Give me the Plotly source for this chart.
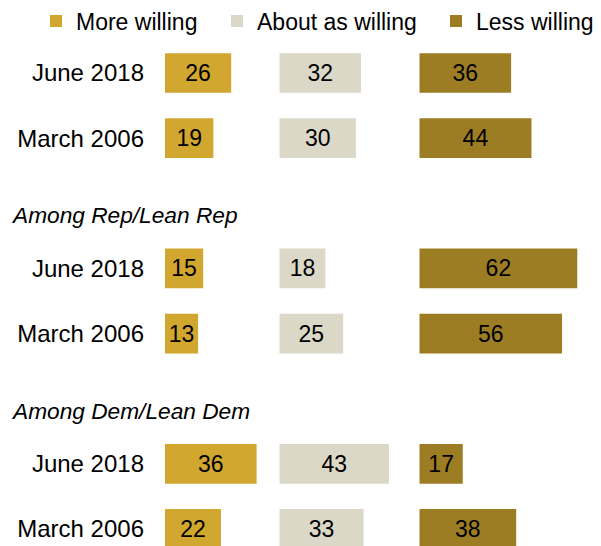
import plotly.graph_objects as go

# ---- data ----
series_names = ["More willing", "About as willing", "Less willing"]
group_titles = ["", "Among Rep/Lean Rep", "Among Dem/Lean Dem"]
period_labels = ["June 2018", "March 2006"]

more_willing = [26, 19, 15, 13, 36, 22]
about_as_willing = [32, 30, 18, 25, 43, 33]
less_willing = [36, 44, 62, 56, 17, 38]

colors = ["#D2A730", "#DBD8C7", "#9D7D24"]
FONT = "Liberation Sans, Arial, sans-serif"

# row positions: each group occupies 3 slots (header slot + 2 rows)
rows, row_labels = [], []
for g in range(len(group_titles)):
    for i, p in enumerate(period_labels):
        rows.append(g * 3 + i)
        row_labels.append(p)

# column starting points derived from the data plus gaps
values = [more_willing, about_as_willing, less_willing]
gaps = [9, 12]
offsets = [0]
for k in range(1, 3):
    offsets.append(offsets[-1] + max(values[k - 1]) + gaps[k - 1])

legend_widths = [136, 174, None]

# layout geometry (figure pixels)
L, T, W, H = 157, 32, 601, 546
PW, PH = W - L, H - T
PX_PER_UNIT = 2.545
ROW_PX = 65.14
ROW0_PX = 65

fig = go.Figure()
for name, vals, col, off, lw in zip(series_names, values, colors, offsets, legend_widths):
    kw = {}
    if lw is not None:
        kw["legendwidth"] = lw
    fig.add_trace(go.Bar(
        name=name,
        y=rows,
        x=vals,
        base=[off] * len(vals),
        orientation="h",
        width=0.61,
        marker=dict(color=col, line=dict(width=0)),
        text=[str(v) for v in vals],
        textposition="inside",
        insidetextanchor="middle",
        textangle=0,
        textfont=dict(family=FONT, size=23, color="#000000"),
        hoverinfo="skip",
        **kw,
    ))

annotations = []
for g, title in enumerate(group_titles):
    if not title:
        continue
    annotations.append(dict(
        text=f"<i>{title}</i>", xref="paper", yref="y",
        x=(1 - L) / PW, y=g * 3 - 1, xanchor="left", yanchor="middle",
        yshift=-12, showarrow=False,
        font=dict(family=FONT, size=22.7, color="#000000"),
    ))

fig.update_layout(
    width=W, height=H,
    margin=dict(l=L, r=0, t=T, b=0, autoexpand=False),
    paper_bgcolor="white", plot_bgcolor="white",
    barmode="overlay",
    showlegend=True,
    legend=dict(
        orientation="h", xref="paper", yref="paper",
        x=(28 - L) / PW, y=(H - 13) / PH, xanchor="left", yanchor="middle",
        font=dict(family=FONT, size=23, color="#000000"),
        bgcolor="rgba(0,0,0,0)", borderwidth=0,
        traceorder="normal",
    ),
    xaxis=dict(range=[0, PW / PX_PER_UNIT], visible=False, fixedrange=True),
    yaxis=dict(
        range=[(H - ROW0_PX) / ROW_PX, (T - ROW0_PX) / ROW_PX],
        tickvals=rows, ticktext=row_labels,
        ticks="", showgrid=False, zeroline=False, showline=False,
        tickfont=dict(family=FONT, size=24, color="#000000"),
        ticklabelstandoff=20,
        fixedrange=True,
    ),
    annotations=annotations,
)

fig.write_html("out.html")
